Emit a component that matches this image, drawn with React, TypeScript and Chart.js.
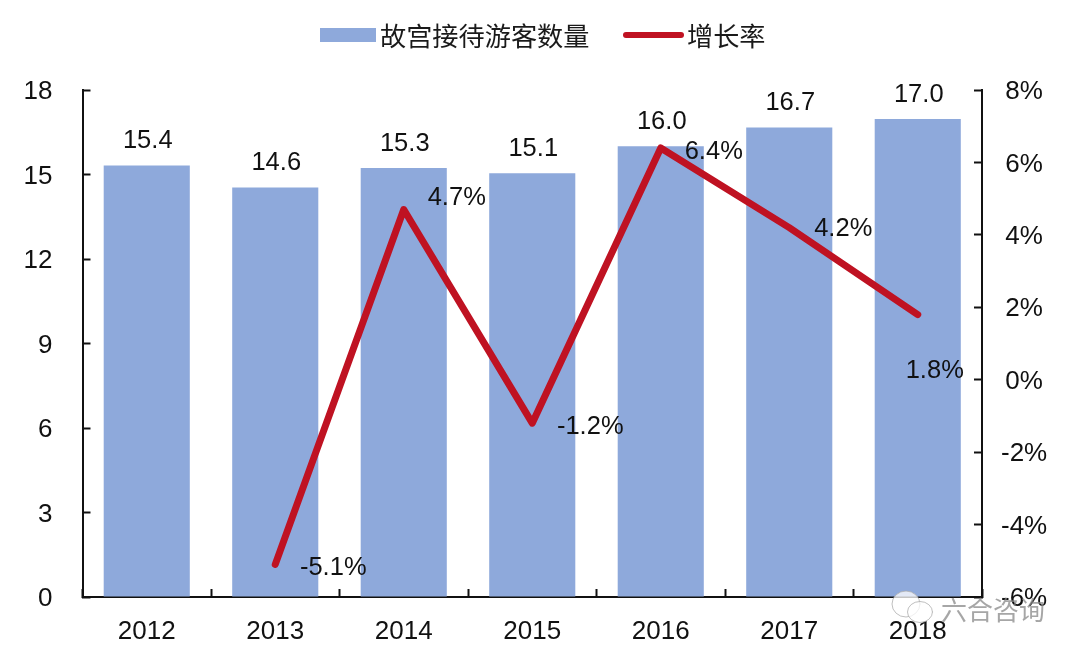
import React, { useEffect, useRef } from "react";
import { Chart, registerables } from "chart.js";

Chart.register(...registerables);

const categories = ["2012", "2013", "2014", "2015", "2016", "2017", "2018"];
const visitors = [15.32, 14.54, 15.23, 15.04, 16.0, 16.67, 16.97];
const visitorLabels = ["15.4", "14.6", "15.3", "15.1", "16.0", "16.7", "17.0"];
const growth = [null, -5.1, 4.7, -1.2, 6.4, 4.2, 1.8];
const growthLabels = [null, "-5.1%", "4.7%", "-1.2%", "6.4%", "4.2%", "1.8%"];
const growthLabelOffsets = [null, [58, 4], [53, -12], [58, 4], [53, 4], [54, 1], [17, 56]];
const BAR_NAME = "故宫接待游客数量";
const LINE_NAME = "增长率";
const WATERMARK = "六合咨询";

const BLUE = "#8EA9DB";
const RED = "#BF1222";
const INK = "#111";
const LATIN = '"Liberation Sans", Arial, sans-serif';
const CJK = '"Noto Sans CJK SC", sans-serif';

const overlay = {
  id: "overlay",
  afterDatasetsDraw(chart: any) {
    const { ctx } = chart;
    ctx.save();
    ctx.fillStyle = INK;
    ctx.font = `25.5px ${LATIN}`;
    ctx.textAlign = "center";
    ctx.textBaseline = "middle";
    chart.getDatasetMeta(0).data.forEach((el: any, i: number) => {
      ctx.fillText(visitorLabels[i], el.x + 1, el.y - 24.5);
    });
    chart.getDatasetMeta(1).data.forEach((el: any, i: number) => {
      const off = growthLabelOffsets[i];
      const text = growthLabels[i];
      if (!off || !text) return;
      ctx.fillText(text, el.x + off[0], el.y + off[1]);
    });

    // legend
    ctx.textAlign = "left";
    ctx.fillStyle = BLUE;
    ctx.fillRect(320, 28, 56, 14);
    ctx.strokeStyle = RED;
    ctx.lineWidth = 6;
    ctx.lineCap = "round";
    ctx.beginPath();
    ctx.moveTo(626, 35);
    ctx.lineTo(681, 35);
    ctx.stroke();
    ctx.fillStyle = "#1a1a1a";
    ctx.font = `26.2px ${CJK}`;
    ctx.fillText(BAR_NAME, 380, 36);
    ctx.fillText(LINE_NAME, 687, 36);

    // watermark
    ctx.globalAlpha = 0.75;
    ctx.lineWidth = 1;
    ctx.strokeStyle = "#aaa";
    ctx.fillStyle = "#fff";
    ctx.beginPath();
    ctx.ellipse(906, 604, 14, 13, 0, 0, Math.PI * 2);
    ctx.fill();
    ctx.stroke();
    ctx.beginPath();
    ctx.ellipse(920, 612, 12.5, 10.5, 0, 0, Math.PI * 2);
    ctx.fill();
    ctx.stroke();
    ctx.fillStyle = "#888";
    ctx.font = `26px ${CJK}`;
    ctx.fillText(WATERMARK, 941, 610);
    ctx.restore();
  },
};

export default function App() {
  const ref = useRef<HTMLCanvasElement>(null);
  useEffect(() => {
    document.body.style.margin = "0";
    const chart = new Chart(ref.current as HTMLCanvasElement, {
      type: "bar",
      data: {
        labels: categories,
        datasets: [
          {
            type: "bar",
            label: BAR_NAME,
            data: visitors,
            yAxisID: "y",
            backgroundColor: BLUE,
            barPercentage: 1,
            categoryPercentage: 0.67,
            order: 2,
          },
          {
            type: "line",
            label: LINE_NAME,
            data: growth,
            yAxisID: "y2",
            borderColor: RED,
            backgroundColor: RED,
            borderWidth: 7,
            borderCapStyle: "round",
            borderJoinStyle: "round",
            pointRadius: 0,
            tension: 0,
            order: 1,
          },
        ] as any,
      },
      options: {
        responsive: false,
        animation: false,
        layout: { padding: { top: 90, left: 0, right: 0, bottom: 0 } },
        plugins: { legend: { display: false }, tooltip: { enabled: false } },
        scales: {
          x: {
            offset: true,
            afterFit(s: any) { s.height = 60; },
            grid: {
              offset: true,
              drawOnChartArea: false,
              tickLength: -8,
              tickWidth: 2,
              tickColor: INK,
            },
            border: { color: INK, width: 2 },
            ticks: { color: INK, font: { family: LATIN, size: 26 }, padding: 27, maxRotation: 0, autoSkip: false },
          },
          y: {
            min: 0,
            max: 18,
            position: "left",
            afterFit(s: any) { s.width = 82.5; },
            grid: { drawOnChartArea: false, tickLength: -8, tickWidth: 2, tickColor: INK },
            border: { color: INK, width: 2 },
            ticks: { stepSize: 3, color: INK, font: { family: LATIN, size: 26 }, padding: 38, labelOffset: 2 },
          },
          y2: {
            min: -6,
            max: 8,
            position: "right",
            afterFit(s: any) { s.width = 98; },
            grid: { drawOnChartArea: false, tickLength: -8, tickWidth: 2, tickColor: INK },
            border: { color: INK, width: 2 },
            ticks: {
              stepSize: 2,
              color: INK,
              font: { family: LATIN, size: 26 },
              padding: 27,
              labelOffset: 2,
              crossAlign: "center",
              callback: (v: any) => `${v}%`,
            },
          },
        },
      },
      plugins: [overlay],
    } as any);
    return () => chart.destroy();
  }, []);
  return <canvas ref={ref} width={1080} height={657} style={{ display: "block" }} />;
}
